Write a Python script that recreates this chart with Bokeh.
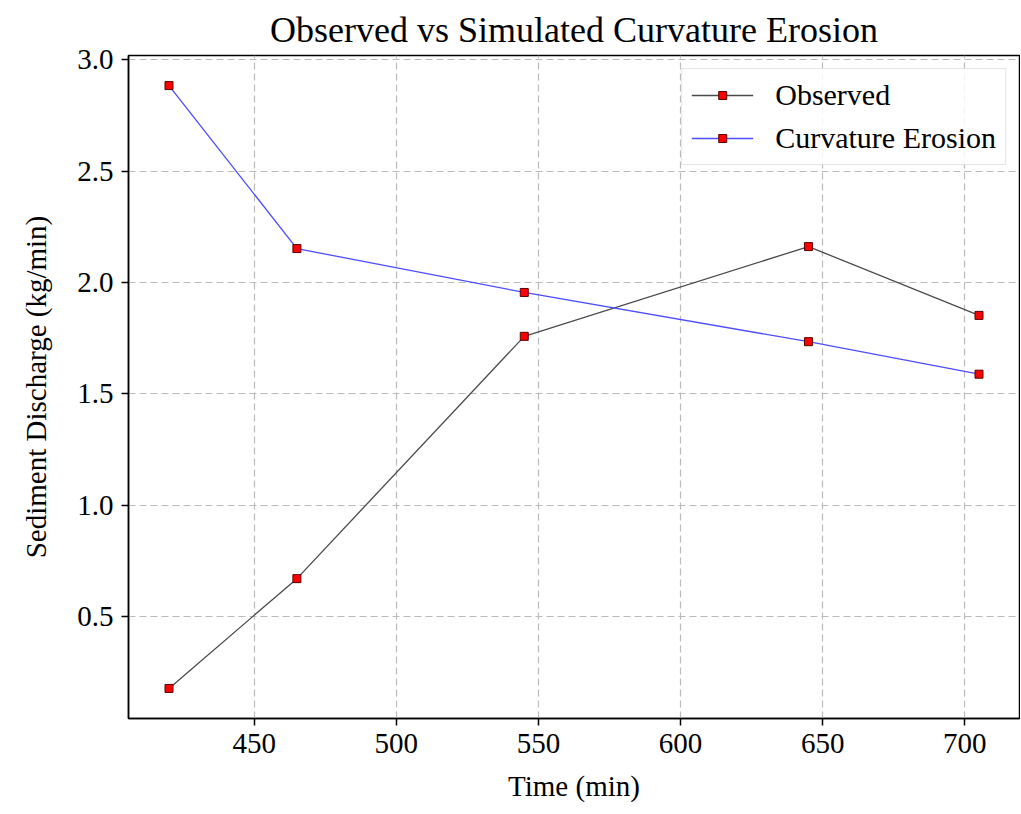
from bokeh.plotting import figure
from bokeh.models import FixedTicker, NumeralTickFormatter, Range1d, Legend, LegendItem
from bokeh.embed import file_html
from bokeh.resources import INLINE

time_min = [420, 465, 545, 645, 705]
observed = [0.177, 0.67, 1.758, 2.161, 1.852]
curvature = [2.884, 2.152, 1.955, 1.734, 1.588]
x_ticks = [450, 500, 550, 600, 650, 700]
y_ticks = [0.5, 1.0, 1.5, 2.0, 2.5, 3.0]

FONT = "Liberation Serif"

p = figure(width=1020, height=810, output_backend="svg", toolbar_location=None,
           x_range=Range1d(405.75, 719.25), y_range=Range1d(0.042, 3.019),
           min_border_left=128, min_border_right=1, min_border_top=55, min_border_bottom=92)

p.title.text = "Observed vs Simulated Curvature Erosion"
p.title.align = "center"
p.title.text_font = FONT
p.title.text_font_size = "36px"
p.title.text_font_style = "normal"
p.title.text_color = "black"
p.title.text_line_height = 0.75
p.title.offset = 0
p.title.standoff = 12

l1 = p.line(time_min, observed, line_color="#4a4a4a", line_width=1.3)
m1 = p.scatter(time_min, observed, marker="square", size=8, fill_color="red",
               line_color="#5a0000", line_width=1)
l2 = p.line(time_min, curvature, line_color="#4d4dff", line_width=1.3)
m2 = p.scatter(time_min, curvature, marker="square", size=8, fill_color="red",
               line_color="#5a0000", line_width=1)

legend = Legend(items=[LegendItem(label="Observed", renderers=[l1, m1]),
                       LegendItem(label="Curvature Erosion", renderers=[l2, m2])],
                location="top_right")
legend.label_text_font = FONT
legend.label_text_font_size = "30px"
legend.label_text_color = "black"
legend.glyph_width = 62
legend.glyph_height = 20
legend.label_standoff = 22
legend.spacing = 9
legend.padding = 9
legend.margin = 13
legend.border_line_color = "#cccccc"
legend.border_line_width = 1
legend.background_fill_alpha = 0.85
p.add_layout(legend)

p.xaxis.ticker = FixedTicker(ticks=x_ticks)
p.yaxis.ticker = FixedTicker(ticks=y_ticks)
p.yaxis.formatter = NumeralTickFormatter(format="0.0")
p.xaxis.axis_label = "Time (min)"
p.yaxis.axis_label = "Sediment Discharge (kg/min)"
for ax in (p.xaxis, p.yaxis):
    ax.axis_label_text_font = FONT
    ax.axis_label_text_font_size = "29px"
    ax.axis_label_text_font_style = "normal"
    ax.axis_label_text_color = "black"
    ax.major_label_text_font = FONT
    ax.major_label_text_font_size = "29px"
    ax.major_label_text_color = "black"
    ax.axis_line_color = "black"
    ax.axis_line_width = 1.5
    ax.major_tick_line_color = "black"
    ax.major_tick_line_width = 1.5
    ax.major_tick_out = 7
    ax.major_tick_in = 0
    ax.minor_tick_line_color = None
p.xaxis.major_label_standoff = 8
p.yaxis.major_label_standoff = 8
p.xaxis.axis_label_standoff = 14
p.yaxis.axis_label_standoff = 22

p.grid.grid_line_color = "#bbbbbb"
p.grid.grid_line_dash = "7 4"
p.grid.grid_line_width = 1.2
p.outline_line_color = "black"
p.outline_line_width = 1.5
p.outline_line_alpha = 1

open("out.html", "w").write(file_html(p, INLINE))
